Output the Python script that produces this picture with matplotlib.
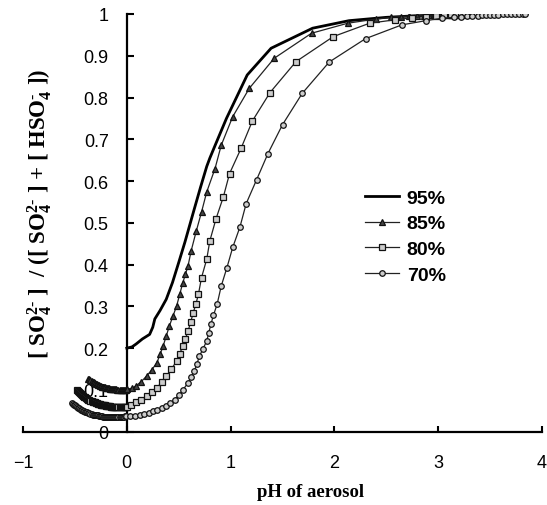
import matplotlib
matplotlib.use('Agg')
from matplotlib import pyplot as plt

plt.rcParams['mathtext.fontset'] = 'custom'
plt.rcParams['mathtext.rm'] = 'Liberation Serif:bold'
plt.rcParams['mathtext.it'] = 'Liberation Serif:bold'
plt.rcParams['mathtext.bf'] = 'Liberation Serif:bold'

# ---- data ----
ph_95 = [0.0, 0.05, 0.09, 0.15, 0.22, 0.25, 0.27, 0.32, 0.38, 0.44, 0.50, 0.56,
         0.65, 0.71, 0.77, 0.80, 0.85, 0.96, 1.16, 1.39, 1.79, 2.14, 2.50, 2.80,
         3.10, 3.30]
frac_95 = [0.200, 0.203, 0.210, 0.222, 0.233, 0.250, 0.270, 0.290, 0.317, 0.357,
           0.405, 0.454, 0.533, 0.585, 0.635, 0.655, 0.685, 0.750, 0.854, 0.918,
           0.966, 0.984, 0.992, 0.996, 0.998, 0.999]

ph_85 = [-0.37, -0.36, -0.35, -0.34, -0.33, -0.32, -0.31, -0.30, -0.29, -0.28,
         -0.27, -0.26, -0.25, -0.24, -0.23, -0.22, -0.21, -0.20, -0.19, -0.18,
         -0.17, -0.16, -0.15, -0.14, -0.13, -0.12, -0.11, -0.10, -0.09, -0.08,
         -0.07, -0.06, -0.05, -0.04, -0.03, -0.02, -0.01, 0.00,
         0.05, 0.09, 0.14, 0.19, 0.24, 0.29, 0.32, 0.35, 0.38, 0.41, 0.445, 0.48,
         0.51, 0.54, 0.565, 0.59, 0.62, 0.67, 0.72, 0.77, 0.85, 0.91, 1.02, 1.18,
         1.42, 1.78, 2.13, 2.40, 2.55, 2.64, 2.72, 2.80, 2.86, 2.91, 2.96, 3.01,
         3.05, 3.09, 3.12, 3.15, 3.18, 3.21, 3.24]
frac_85 = [0.127, 0.125, 0.123, 0.121, 0.119, 0.118, 0.116, 0.115, 0.113, 0.112,
           0.111, 0.110, 0.109, 0.108, 0.107, 0.106, 0.106, 0.105, 0.105, 0.104,
           0.104, 0.103, 0.103, 0.103, 0.102, 0.102, 0.102, 0.102, 0.101, 0.101,
           0.101, 0.101, 0.101, 0.101, 0.101, 0.101, 0.101, 0.102,
           0.104, 0.110, 0.120, 0.133, 0.148, 0.165, 0.185, 0.205, 0.229, 0.253,
           0.277, 0.301, 0.329, 0.357, 0.377, 0.397, 0.433, 0.481, 0.526, 0.574,
           0.630, 0.686, 0.754, 0.822, 0.894, 0.954, 0.978, 0.988, 0.992, 0.994,
           0.995, 0.996, 0.996, 0.997, 0.997, 0.997, 0.998, 0.998, 0.998, 0.998,
           0.999, 0.999, 0.999]

ph_80 = [-0.48, -0.47, -0.46, -0.45, -0.44, -0.43, -0.42, -0.41, -0.40, -0.39,
         -0.38, -0.37, -0.36, -0.35, -0.34, -0.33, -0.32, -0.31, -0.30, -0.29,
         -0.28, -0.27, -0.26, -0.25, -0.24, -0.23, -0.22, -0.21, -0.20, -0.19,
         -0.18, -0.17, -0.16, -0.15, -0.14, -0.13, -0.12, -0.11, -0.10, -0.09,
         -0.08, -0.07, -0.06, -0.05, -0.04, -0.03, -0.02, -0.01, 0.00,
         0.04, 0.09, 0.14, 0.19, 0.24, 0.29, 0.335, 0.38, 0.43, 0.48, 0.51, 0.54,
         0.565, 0.59, 0.615, 0.64, 0.665, 0.69, 0.72, 0.77, 0.80, 0.86, 0.93,
         0.99, 1.10, 1.21, 1.38, 1.63, 1.99, 2.34, 2.58, 2.75, 2.88, 2.98, 3.06,
         3.12, 3.17, 3.22, 3.26, 3.30]
frac_80 = [0.100, 0.097, 0.095, 0.093, 0.090, 0.088, 0.086, 0.084, 0.082, 0.080,
           0.079, 0.077, 0.076, 0.074, 0.073, 0.072, 0.071, 0.070, 0.069, 0.068,
           0.067, 0.066, 0.066, 0.065, 0.064, 0.064, 0.063, 0.063, 0.062, 0.062,
           0.061, 0.061, 0.061, 0.060, 0.060, 0.060, 0.060, 0.059, 0.059, 0.059,
           0.059, 0.059, 0.059, 0.059, 0.059, 0.059, 0.059, 0.060, 0.060,
           0.063, 0.070, 0.077, 0.085, 0.095, 0.105, 0.118, 0.133, 0.150, 0.169,
           0.187, 0.205, 0.223, 0.241, 0.262, 0.285, 0.305, 0.329, 0.369, 0.413,
           0.457, 0.510, 0.562, 0.618, 0.678, 0.744, 0.812, 0.886, 0.946, 0.978,
           0.986, 0.991, 0.994, 0.996, 0.997, 0.997, 0.998, 0.998, 0.999, 0.999]

ph_70 = [-0.53, -0.52, -0.51, -0.50, -0.49, -0.48, -0.47, -0.46, -0.45, -0.44,
         -0.43, -0.42, -0.41, -0.40, -0.39, -0.38, -0.37, -0.36, -0.35, -0.34,
         -0.33, -0.32, -0.31, -0.30, -0.29, -0.28, -0.27, -0.26, -0.25, -0.24,
         -0.23, -0.22, -0.21, -0.20, -0.19, -0.18, -0.17, -0.16, -0.15, -0.14,
         -0.13, -0.12, -0.11, -0.10, -0.09, -0.08, -0.07, -0.06, -0.05, -0.04,
         -0.03, -0.02, -0.01,
         0.03, 0.08, 0.125, 0.17, 0.21, 0.25, 0.29, 0.335, 0.38, 0.42, 0.46,
         0.50, 0.54, 0.59, 0.62, 0.65, 0.675, 0.70, 0.735, 0.77, 0.79, 0.81,
         0.835, 0.87, 0.91, 0.965, 1.02, 1.09, 1.15, 1.25, 1.36, 1.50, 1.69,
         1.95, 2.30, 2.65, 2.88, 3.04, 3.15, 3.22, 3.28, 3.33, 3.38, 3.42, 3.46,
         3.50, 3.54, 3.58, 3.62, 3.66, 3.70, 3.74, 3.78, 3.82, 3.84]
frac_70 = [0.069, 0.067, 0.065, 0.063, 0.061, 0.059, 0.057, 0.056, 0.054, 0.053,
           0.051, 0.050, 0.049, 0.048, 0.047, 0.046, 0.045, 0.044, 0.043, 0.042,
           0.041, 0.041, 0.040, 0.040, 0.039, 0.039, 0.038, 0.038, 0.037, 0.037,
           0.036, 0.036, 0.036, 0.036, 0.035, 0.035, 0.035, 0.035, 0.035, 0.035,
           0.035, 0.035, 0.035, 0.035, 0.035, 0.036, 0.036, 0.036, 0.036, 0.036,
           0.036, 0.037, 0.037,
           0.037, 0.038, 0.039, 0.042, 0.045, 0.049, 0.053, 0.057, 0.061, 0.069,
           0.077, 0.087, 0.100, 0.117, 0.130, 0.145, 0.162, 0.181, 0.199, 0.217,
           0.237, 0.257, 0.279, 0.305, 0.349, 0.393, 0.441, 0.490, 0.546, 0.603,
           0.666, 0.735, 0.810, 0.885, 0.941, 0.974, 0.984, 0.990, 0.992, 0.994,
           0.995, 0.996, 0.996, 0.997, 0.997, 0.998, 0.998, 0.998, 0.999, 0.999,
           0.999, 0.999, 0.999, 0.999, 0.999]

x_ticks = [-1, 0, 1, 2, 3, 4]
y_ticks = [0, 0.1, 0.2, 0.3, 0.4, 0.5, 0.6, 0.7, 0.8, 0.9, 1]
y_ticklabels = ['0', '0.1', '0.2', '0.3', '0.4', '0.5', '0.6', '0.7', '0.8', '0.9', '1']
x_ticklabels = ['\u22121', '0', '1', '2', '3', '4']

fig = plt.figure(figsize=(5.47, 5.06), dpi=100, facecolor='w')
W, H = 547.0, 506.0
ax = fig.add_axes([23 / W, 1 - 432.7 / H, (542 - 23) / W, (432.7 - 15) / H])

ax.plot(ph_95, frac_95, color='black', lw=2.0, zorder=4, label='95%')
ax.plot(ph_85, frac_85, color='#222222', lw=0.9, marker='^', ms=4,
        mfc='#444444', mec='#111111', mew=0.9, zorder=4, label='85%')
ax.plot(ph_80, frac_80, color='#222222', lw=0.9, marker='s', ms=3.8,
        mfc='#cccccc', mec='#111111', mew=0.9, zorder=4, label='80%')
ax.plot(ph_70, frac_70, color='#222222', lw=0.9, marker='o', ms=4,
        mfc='#cccccc', mec='#111111', mew=0.9, zorder=4, label='70%')

ax.set_xlim(-1, 4)
ax.set_ylim(0, 1)
ax.spines['left'].set_position(('data', 0))
ax.spines['bottom'].set_position(('data', 0))
ax.spines['top'].set_visible(False)
ax.spines['right'].set_visible(False)
for s in ('left', 'bottom'):
    ax.spines[s].set_linewidth(1.6)

ax.set_xticks(x_ticks)
ax.set_xticklabels(x_ticklabels, family='Liberation Sans', fontsize=13)
ax.set_yticks(y_ticks)
ax.set_yticklabels(y_ticklabels, family='Liberation Sans', fontsize=13)
ax.tick_params(axis='y', direction='in', length=5, width=1.5, pad=13)
ax.tick_params(axis='x', direction='in', length=4.5, width=1.5, pad=16)
ax.set_facecolor('none')

fig.text(311 / W, 1 - 493 / H, 'pH of aerosol', family='Liberation Serif',
         weight='bold', fontsize=13.5, ha='center', va='center')
fig.text(40 / W, 1 - 214 / H,
         r'[ SO$_4^{2\text{-}}$ ]  / ([ SO$_4^{2\text{-}}$ ] + [ HSO$_4^{\text{-}}$ ])',
         family='Liberation Serif', weight='bold', fontsize=16.5,
         rotation=90, ha='center', va='center')

ax.legend(loc='upper left', bbox_to_anchor=(365 / W, 1 - 190 / H),
          bbox_transform=fig.transFigure, frameon=False, numpoints=1,
          handlelength=1.75, handletextpad=0.4, labelspacing=0.42,
          borderpad=0, borderaxespad=0,
          prop={'family': 'Liberation Sans', 'weight': 'bold', 'size': 14})

fig.savefig('out.png', dpi=100)
